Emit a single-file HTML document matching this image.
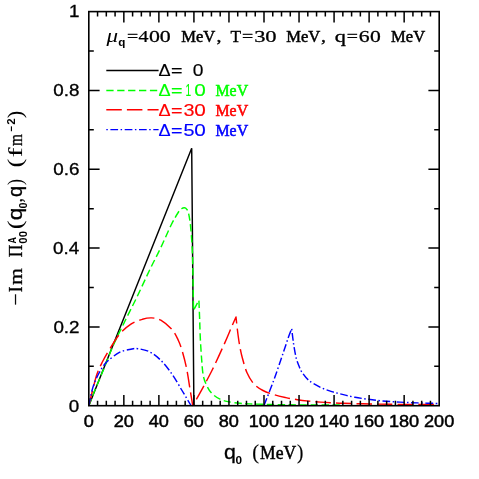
<!DOCTYPE html>
<html><head><meta charset="utf-8"><title>plot</title>
<style>html,body{margin:0;padding:0;background:#fff;}svg{display:block;}.a{font-family:"Liberation Serif",serif;font-weight:normal;font-style:normal;}.b{font-family:"Liberation Serif",serif;font-weight:bold;font-style:normal;}.c{font-family:"Liberation Serif",serif;font-weight:normal;font-style:italic;}.d{font-family:"Liberation Sans",sans-serif;font-weight:normal;font-style:normal;}.e{font-family:"Liberation Sans",sans-serif;font-weight:bold;font-style:normal;}.f{font-family:"Liberation Mono",monospace;font-weight:normal;font-style:normal;}.g{font-family:"Liberation Serif",serif;font-weight:bold;font-style:italic;}</style>
</head><body>
<svg width="479" height="479" viewBox="0 0 479 479" style="will-change:transform">
<rect x="0" y="0" width="479" height="479" fill="#fff"/>
<g fill="none" stroke-linejoin="round" stroke-linecap="butt">
<path d="M88.8,405.7 L191.7,148.3 L193.9,405.7" stroke="#000" stroke-width="1.45" stroke-linejoin="miter"/>
<path d="M88.80,405.70 C89.70,403.38 91.70,397.93 94.20,391.80 C96.70,385.67 100.67,376.55 103.80,368.90 C106.93,361.25 109.55,353.72 113.00,345.90 C116.45,338.08 120.55,330.07 124.50,322.00 C128.45,313.93 132.45,306.28 136.70,297.50 C140.95,288.72 146.05,277.47 150.00,269.30 C153.95,261.13 156.92,255.80 160.40,248.50 C163.88,241.20 167.93,231.50 170.90,225.50 C173.87,219.50 176.43,215.28 178.20,212.50 C179.97,209.72 180.47,209.60 181.50,208.80 C182.53,208.00 183.52,207.62 184.40,207.70 C185.28,207.78 186.10,208.33 186.80,209.30 C187.50,210.27 187.95,210.45 188.60,213.50 C189.25,216.55 190.07,221.08 190.70,227.60 C191.33,234.12 191.98,242.20 192.40,252.60 C192.82,263.00 193.02,280.37 193.20,290.00 C193.38,299.63 193.45,307.00 193.50,310.40 L198.9,300.2 C199.02,303.17 199.37,311.70 199.60,318.00 C199.83,324.30 199.95,331.00 200.30,338.00 C200.65,345.00 201.20,353.70 201.70,360.00 C202.20,366.30 202.47,371.55 203.30,375.80 C204.13,380.05 205.30,382.58 206.70,385.50 C208.10,388.42 209.48,391.02 211.70,393.30 C213.92,395.58 217.23,397.80 220.00,399.20 C222.77,400.60 224.97,401.02 228.30,401.70 C231.63,402.38 236.38,402.93 240.00,403.30 C243.62,403.67 245.00,403.70 250.00,403.90 C255.00,404.10 261.67,404.33 270.00,404.50 C278.33,404.67 288.33,404.80 300.00,404.90 C311.67,405.00 333.33,405.07 340.00,405.10" stroke="#00ff00" stroke-width="1.45" stroke-dasharray="7.3 3.6"/>
<path d="M88.80,405.70 C89.38,403.33 90.93,396.78 92.30,391.50 C93.67,386.22 95.28,379.00 97.00,374.00 C98.72,369.00 100.68,365.33 102.60,361.50 C104.52,357.67 105.70,355.52 108.50,351.00 C111.30,346.48 115.67,338.88 119.40,334.40 C123.13,329.92 127.07,326.62 130.90,324.10 C134.73,321.58 138.95,320.33 142.40,319.30 C145.85,318.27 148.53,317.75 151.60,317.90 C154.67,318.05 157.35,318.20 160.80,320.20 C164.25,322.20 169.37,326.52 172.30,329.90 C175.23,333.28 176.70,336.82 178.40,340.50 C180.10,344.18 181.12,347.25 182.50,352.00 C183.88,356.75 185.45,362.83 186.70,369.00 C187.95,375.17 189.00,382.92 190.00,389.00 C191.00,395.08 192.25,402.75 192.70,405.50 C193.78,403.63 196.03,400.05 199.20,394.30 C202.37,388.55 207.53,379.35 211.70,371.00 C215.87,362.65 220.82,351.70 224.20,344.20 C227.58,336.70 230.03,330.53 232.00,326.00 C233.97,321.47 235.33,318.50 236.00,317.00 C236.22,319.00 236.82,325.00 237.30,329.00 C237.78,333.00 238.37,337.50 238.90,341.00 C239.43,344.50 239.93,347.22 240.50,350.00 C241.07,352.78 241.23,353.95 242.30,357.70 C243.37,361.45 244.98,368.15 246.90,372.50 C248.82,376.85 251.12,380.80 253.80,383.80 C256.48,386.80 259.57,388.67 263.00,390.50 C266.43,392.33 270.58,393.62 274.40,394.80 C278.22,395.98 282.07,396.78 285.90,397.60 C289.73,398.42 293.57,399.12 297.40,399.70 C301.23,400.28 305.07,400.70 308.90,401.10 C312.73,401.50 316.58,401.82 320.40,402.10 C324.22,402.38 327.98,402.60 331.80,402.80 C335.62,403.00 336.93,403.10 343.30,403.30 C349.67,403.50 360.55,403.82 370.00,404.00 C379.45,404.18 388.50,404.30 400.00,404.40 C411.50,404.50 432.50,404.57 439.00,404.60" stroke="#ff0000" stroke-width="1.45" stroke-dasharray="15.5 5.1"/>
<path d="M88.80,405.70 C89.32,403.25 90.87,395.03 91.90,391.00 C92.93,386.97 93.85,384.42 95.00,381.50 C96.15,378.58 97.47,376.00 98.80,373.50 C100.13,371.00 101.47,368.62 103.00,366.50 C104.53,364.38 105.27,363.15 108.00,360.80 C110.73,358.45 115.58,354.33 119.40,352.40 C123.22,350.47 127.83,349.82 130.90,349.20 C133.97,348.58 134.73,348.28 137.80,348.70 C140.87,349.12 145.47,349.77 149.30,351.70 C153.13,353.63 156.97,356.50 160.80,360.30 C164.63,364.10 168.87,369.63 172.30,374.50 C175.73,379.37 179.00,385.53 181.40,389.50 C183.80,393.47 185.10,395.63 186.70,398.30 C188.30,400.97 190.28,404.30 191.00,405.50" stroke="#0000ff" stroke-width="1.45" stroke-dasharray="7.7 2.5 1.5 2.6"/>
<path d="M264.10,405.30 C265.82,400.83 271.15,387.43 274.40,378.50 C277.65,369.57 281.25,358.62 283.60,351.70 C285.95,344.78 287.15,340.83 288.50,337.00 C289.85,333.17 291.17,330.08 291.70,328.70 C291.88,330.25 292.42,335.03 292.80,338.00 C293.18,340.97 293.42,343.08 294.00,346.50 C294.58,349.92 295.47,355.25 296.30,358.50 C297.13,361.75 298.05,363.70 299.00,366.00 C299.95,368.30 300.35,369.90 302.00,372.30 C303.65,374.70 305.83,377.90 308.90,380.40 C311.97,382.90 316.58,385.43 320.40,387.30 C324.22,389.17 327.98,390.38 331.80,391.60 C335.62,392.82 339.43,393.65 343.30,394.60 C347.17,395.55 350.97,396.53 355.00,397.30 C359.03,398.07 363.33,398.63 367.50,399.20 C371.67,399.77 375.83,400.28 380.00,400.70 C384.17,401.12 388.33,401.42 392.50,401.70 C396.67,401.98 400.83,402.20 405.00,402.40 C409.17,402.60 411.83,402.72 417.50,402.90 C423.17,403.08 435.42,403.40 439.00,403.50" stroke="#0000ff" stroke-width="1.45" stroke-dasharray="7.7 2.5 1.5 2.6"/>
</g>
<g stroke="#000" stroke-width="1.6" fill="none" stroke-linecap="butt">
<rect x="88.8" y="11.6" width="350.4" height="394.1"/>
<path d="M97.56,405.7v-5.0M97.56,11.6v5.0M106.32,405.7v-5.0M106.32,11.6v5.0M115.08,405.7v-5.0M115.08,11.6v5.0M123.84,405.7v-10.8M123.84,11.6v10.8M132.60,405.7v-5.0M132.60,11.6v5.0M141.36,405.7v-5.0M141.36,11.6v5.0M150.12,405.7v-5.0M150.12,11.6v5.0M158.88,405.7v-10.8M158.88,11.6v10.8M167.64,405.7v-5.0M167.64,11.6v5.0M176.40,405.7v-5.0M176.40,11.6v5.0M185.16,405.7v-5.0M185.16,11.6v5.0M193.92,405.7v-10.8M193.92,11.6v10.8M202.68,405.7v-5.0M202.68,11.6v5.0M211.44,405.7v-5.0M211.44,11.6v5.0M220.20,405.7v-5.0M220.20,11.6v5.0M228.96,405.7v-10.8M228.96,11.6v10.8M237.72,405.7v-5.0M237.72,11.6v5.0M246.48,405.7v-5.0M246.48,11.6v5.0M255.24,405.7v-5.0M255.24,11.6v5.0M264.00,405.7v-10.8M264.00,11.6v10.8M272.76,405.7v-5.0M272.76,11.6v5.0M281.52,405.7v-5.0M281.52,11.6v5.0M290.28,405.7v-5.0M290.28,11.6v5.0M299.04,405.7v-10.8M299.04,11.6v10.8M307.80,405.7v-5.0M307.80,11.6v5.0M316.56,405.7v-5.0M316.56,11.6v5.0M325.32,405.7v-5.0M325.32,11.6v5.0M334.08,405.7v-10.8M334.08,11.6v10.8M342.84,405.7v-5.0M342.84,11.6v5.0M351.60,405.7v-5.0M351.60,11.6v5.0M360.36,405.7v-5.0M360.36,11.6v5.0M369.12,405.7v-10.8M369.12,11.6v10.8M377.88,405.7v-5.0M377.88,11.6v5.0M386.64,405.7v-5.0M386.64,11.6v5.0M395.40,405.7v-5.0M395.40,11.6v5.0M404.16,405.7v-10.8M404.16,11.6v10.8M412.92,405.7v-5.0M412.92,11.6v5.0M421.68,405.7v-5.0M421.68,11.6v5.0M430.44,405.7v-5.0M430.44,11.6v5.0M88.8,366.29h5.0M439.2,366.29h-5.0M88.8,326.88h10.8M439.2,326.88h-10.8M88.8,287.47h5.0M439.2,287.47h-5.0M88.8,248.06h10.8M439.2,248.06h-10.8M88.8,208.65h5.0M439.2,208.65h-5.0M88.8,169.24h10.8M439.2,169.24h-10.8M88.8,129.83h5.0M439.2,129.83h-5.0M88.8,90.42h10.8M439.2,90.42h-10.8M88.8,51.01h5.0M439.2,51.01h-5.0" stroke-width="1.5"/>
</g>
<g fill="#000">
<text class="d" transform="translate(83.65,426.70) scale(1.150,1)" font-size="15.8" stroke="#000" stroke-width="0.45">0</text>
<text class="d" transform="translate(113.63,426.70) scale(1.150,1)" font-size="15.8" stroke="#000" stroke-width="0.45">20</text>
<text class="d" transform="translate(148.67,426.70) scale(1.150,1)" font-size="15.8" stroke="#000" stroke-width="0.45">40</text>
<text class="d" transform="translate(183.71,426.70) scale(1.150,1)" font-size="15.8" stroke="#000" stroke-width="0.45">60</text>
<text class="d" transform="translate(218.75,426.70) scale(1.150,1)" font-size="15.8" stroke="#000" stroke-width="0.45">80</text>
<text class="d" transform="translate(248.74,426.70) scale(1.150,1)" font-size="15.8" stroke="#000" stroke-width="0.45">100</text>
<text class="d" transform="translate(283.78,426.70) scale(1.150,1)" font-size="15.8" stroke="#000" stroke-width="0.45">120</text>
<text class="d" transform="translate(318.82,426.70) scale(1.150,1)" font-size="15.8" stroke="#000" stroke-width="0.45">140</text>
<text class="d" transform="translate(353.86,426.70) scale(1.150,1)" font-size="15.8" stroke="#000" stroke-width="0.45">160</text>
<text class="d" transform="translate(388.90,426.70) scale(1.150,1)" font-size="15.8" stroke="#000" stroke-width="0.45">180</text>
<text class="d" transform="translate(423.94,426.70) scale(1.150,1)" font-size="15.8" stroke="#000" stroke-width="0.45">200</text>
<text class="d" transform="translate(68.87,411.50) scale(1.190,1)" font-size="15.8" stroke="#000" stroke-width="0.3">0</text>
<text class="d" transform="translate(53.41,332.68) scale(1.190,1)" font-size="15.8" stroke="#000" stroke-width="0.3">0.2</text>
<text class="d" transform="translate(52.98,253.86) scale(1.190,1)" font-size="15.8" stroke="#000" stroke-width="0.3">0.4</text>
<text class="d" transform="translate(53.26,175.04) scale(1.190,1)" font-size="15.8" stroke="#000" stroke-width="0.3">0.6</text>
<text class="d" transform="translate(53.26,96.22) scale(1.190,1)" font-size="15.8" stroke="#000" stroke-width="0.3">0.8</text>
<text class="d" transform="translate(69.06,17.40) scale(1.190,1)" font-size="15.8" stroke="#000" stroke-width="0.3">1</text>
</g>
<g fill="#000">
<text class="c" transform="translate(106.50,41.50) scale(1.283,1)" font-size="18">μ</text>
<text class="e" transform="translate(118.23,46.20) scale(1.016,1)" font-size="11.5">q</text>
<text class="a" transform="translate(127.01,41.50) scale(1.171,1)" font-size="16.9" stroke="#000" stroke-width="0.35">=</text>
<text class="a" transform="translate(138.50,41.50) scale(1.235,1)" font-size="16.2" stroke="#000" stroke-width="0.25">4</text>
<text class="a" transform="translate(148.98,41.50) scale(1.351,1)" font-size="16.2" stroke="#000" stroke-width="0.25">0</text>
<text class="a" transform="translate(159.78,41.50) scale(1.351,1)" font-size="16.2" stroke="#000" stroke-width="0.25">0</text>
<text class="a" transform="translate(254.13,41.50) scale(1.392,1)" font-size="16.2" stroke="#000" stroke-width="0.25">3</text>
<text class="a" transform="translate(265.25,41.50) scale(1.394,1)" font-size="16.2" stroke="#000" stroke-width="0.25">0</text>
<text class="a" transform="translate(358.68,41.50) scale(1.343,1)" font-size="16.2" stroke="#000" stroke-width="0.25">6</text>
<text class="a" transform="translate(369.89,41.50) scale(1.336,1)" font-size="16.2" stroke="#000" stroke-width="0.25">0</text>
<text class="a" transform="translate(181.20,41.50) scale(0.982,1)" font-size="16.9" stroke="#000" stroke-width="0.5">MeV</text>
<text class="a" transform="translate(216.45,41.50) scale(1.183,1)" font-size="16.9" stroke="#000" stroke-width="0.35">,</text>
<text class="a" transform="translate(230.60,41.50) scale(1.025,1)" font-size="16.9" stroke="#000" stroke-width="0.35">T</text>
<text class="a" transform="translate(242.01,41.50) scale(1.171,1)" font-size="16.9" stroke="#000" stroke-width="0.35">=</text>
<text class="a" transform="translate(286.20,41.50) scale(0.982,1)" font-size="16.9" stroke="#000" stroke-width="0.5">MeV</text>
<text class="a" transform="translate(321.05,41.50) scale(1.183,1)" font-size="16.9" stroke="#000" stroke-width="0.35">,</text>
<text class="a" transform="translate(334.72,41.50) scale(1.322,1)" font-size="16.9" stroke="#000" stroke-width="0.3">q</text>
<text class="a" transform="translate(346.71,41.50) scale(1.171,1)" font-size="16.9" stroke="#000" stroke-width="0.35">=</text>
<text class="a" transform="translate(391.10,41.50) scale(0.979,1)" font-size="16.9" stroke="#000" stroke-width="0.5">MeV</text>
</g>
<path d="M106.3,70.5H158.6" stroke="#000000" stroke-width="1.45" fill="none"/>
<text class="d" transform="translate(158.46,76.40) scale(1.146,1)" font-size="15.8" fill="#000000" stroke="#000000" stroke-width="0.15">Δ</text>
<text class="d" transform="translate(171.01,76.40) scale(1.253,1)" font-size="15.8" fill="#000000" stroke="#000000" stroke-width="0.15">=</text>
<text class="d" transform="translate(192.63,76.40) scale(1.219,1)" font-size="15.8" fill="#000000" stroke="#000000" stroke-width="0.15">0</text>
<path d="M106.3,90.5H158.6" stroke="#00ff00" stroke-width="1.45" fill="none" stroke-dasharray="7.3 3.6" stroke-dashoffset="0"/>
<text class="d" transform="translate(158.46,96.30) scale(1.146,1)" font-size="15.8" fill="#00ff00" stroke="#00ff00" stroke-width="0.15">Δ</text>
<text class="d" transform="translate(171.01,96.30) scale(1.253,1)" font-size="15.8" fill="#00ff00" stroke="#00ff00" stroke-width="0.15">=</text>
<text class="d" transform="translate(185.54,96.30) scale(0.644,1)" font-size="15.8" fill="#00ff00" stroke="#00ff00" stroke-width="0.15">1</text>
<text class="d" transform="translate(194.27,96.30) scale(1.312,1)" font-size="15.8" fill="#00ff00" stroke="#00ff00" stroke-width="0.15">0</text>
<text class="a" transform="translate(215.52,96.30) scale(0.938,1)" font-size="16.9" fill="#00ff00" stroke="#00ff00" stroke-width="0.55">MeV</text>
<path d="M106.3,109.7H158.6" stroke="#ff0000" stroke-width="1.45" fill="none" stroke-dasharray="15.5 5.1" stroke-dashoffset="0"/>
<text class="d" transform="translate(158.46,115.90) scale(1.146,1)" font-size="15.8" fill="#ff0000" stroke="#ff0000" stroke-width="0.15">Δ</text>
<text class="d" transform="translate(171.01,115.90) scale(1.253,1)" font-size="15.8" fill="#ff0000" stroke="#ff0000" stroke-width="0.15">=</text>
<text class="d" transform="translate(183.46,115.90) scale(1.252,1)" font-size="15.8" fill="#ff0000" stroke="#ff0000" stroke-width="0.15">3</text>
<text class="d" transform="translate(194.27,115.90) scale(1.312,1)" font-size="15.8" fill="#ff0000" stroke="#ff0000" stroke-width="0.15">0</text>
<text class="a" transform="translate(215.52,115.90) scale(0.938,1)" font-size="16.9" fill="#ff0000" stroke="#ff0000" stroke-width="0.55">MeV</text>
<path d="M106.3,129.6H158.6" stroke="#0000ff" stroke-width="1.45" fill="none" stroke-dasharray="7.7 2.5 1.5 2.6" stroke-dashoffset="10.2"/>
<text class="d" transform="translate(158.46,135.90) scale(1.146,1)" font-size="15.8" fill="#0000ff" stroke="#0000ff" stroke-width="0.15">Δ</text>
<text class="d" transform="translate(171.01,135.90) scale(1.253,1)" font-size="15.8" fill="#0000ff" stroke="#0000ff" stroke-width="0.15">=</text>
<text class="d" transform="translate(183.41,135.90) scale(1.252,1)" font-size="15.8" fill="#0000ff" stroke="#0000ff" stroke-width="0.15">5</text>
<text class="d" transform="translate(194.27,135.90) scale(1.312,1)" font-size="15.8" fill="#0000ff" stroke="#0000ff" stroke-width="0.15">0</text>
<text class="a" transform="translate(215.52,135.90) scale(0.938,1)" font-size="16.9" fill="#0000ff" stroke="#0000ff" stroke-width="0.55">MeV</text>
<g fill="#000">
<text class="d" transform="translate(223.99,459.00) scale(1.094,1)" font-size="19.5" stroke="#000" stroke-width="0.3">q</text>
<text class="e" transform="translate(235.53,464.10) scale(1.072,1)" font-size="11.0">0</text>
<text class="a" transform="translate(252.18,459.20) scale(0.957,1)" font-size="21.3" stroke="#000" stroke-width="0.2">(</text>
<text class="a" transform="translate(260.07,458.60) scale(0.933,1)" font-size="18.8" stroke="#000" stroke-width="0.5">MeV</text>
<text class="a" transform="translate(296.98,459.20) scale(0.893,1)" font-size="21.3" stroke="#000" stroke-width="0.2">)</text>
</g>
<g fill="#000" transform="translate(21.6,304) rotate(-90)">
<text class="a" transform="translate(-1.58,0.00) scale(1.114,1)" font-size="19.3" stroke="#000" stroke-width="0.3">−</text>
<text class="a" transform="translate(11.79,0.00) scale(0.908,1)" font-size="19.3" stroke="#000" stroke-width="0.3">I</text>
<text class="a" transform="translate(18.96,0.00) scale(1.130,1)" font-size="19.3" stroke="#000" stroke-width="0.25">m</text>
<text class="a" transform="translate(46.87,0.00) scale(0.907,1)" font-size="19.3" stroke="#000" stroke-width="0.3">Π</text>
<text class="e" transform="translate(60.48,-5.60) scale(0.766,1)" font-size="11.5">A</text>
<text class="e" transform="translate(60.35,5.00) scale(0.989,1)" font-size="11.5">0</text>
<text class="e" transform="translate(66.75,5.00) scale(0.989,1)" font-size="11.5">0</text>
<text class="a" transform="translate(74.70,0.60) scale(1.252,1)" font-size="21.3">(</text>
<text class="d" transform="translate(83.64,0.00) scale(1.162,1)" font-size="19.5" stroke="#000" stroke-width="0.3">q</text>
<text class="e" transform="translate(95.46,5.00) scale(1.014,1)" font-size="10.8">0</text>
<text class="a" transform="translate(101.70,0.00) scale(0.829,1)" font-size="19.3" stroke="#000" stroke-width="0.3">,</text>
<text class="d" transform="translate(106.95,0.00) scale(1.026,1)" font-size="19.5" stroke="#000" stroke-width="0.3">q</text>
<text class="a" transform="translate(118.87,0.60) scale(0.912,1)" font-size="21.3">)</text>
<text class="a" transform="translate(136.40,0.60) scale(1.252,1)" font-size="21.3">(</text>
<text class="a" transform="translate(146.73,0.00) scale(1.507,1)" font-size="19.3" stroke="#000" stroke-width="0.1">f</text>
<text class="a" transform="translate(158.00,0.00) scale(0.789,1)" font-size="19.3" stroke="#000" stroke-width="0.3">m</text>
<text class="e" transform="translate(172.18,-6.20) scale(0.916,1)" font-size="10.7">−</text>
<text class="e" transform="translate(179.20,-6.50) scale(1.071,1)" font-size="10.7">2</text>
<text class="a" transform="translate(185.77,0.60) scale(1.057,1)" font-size="21.3">)</text>
</g>
</svg>
</body></html>
